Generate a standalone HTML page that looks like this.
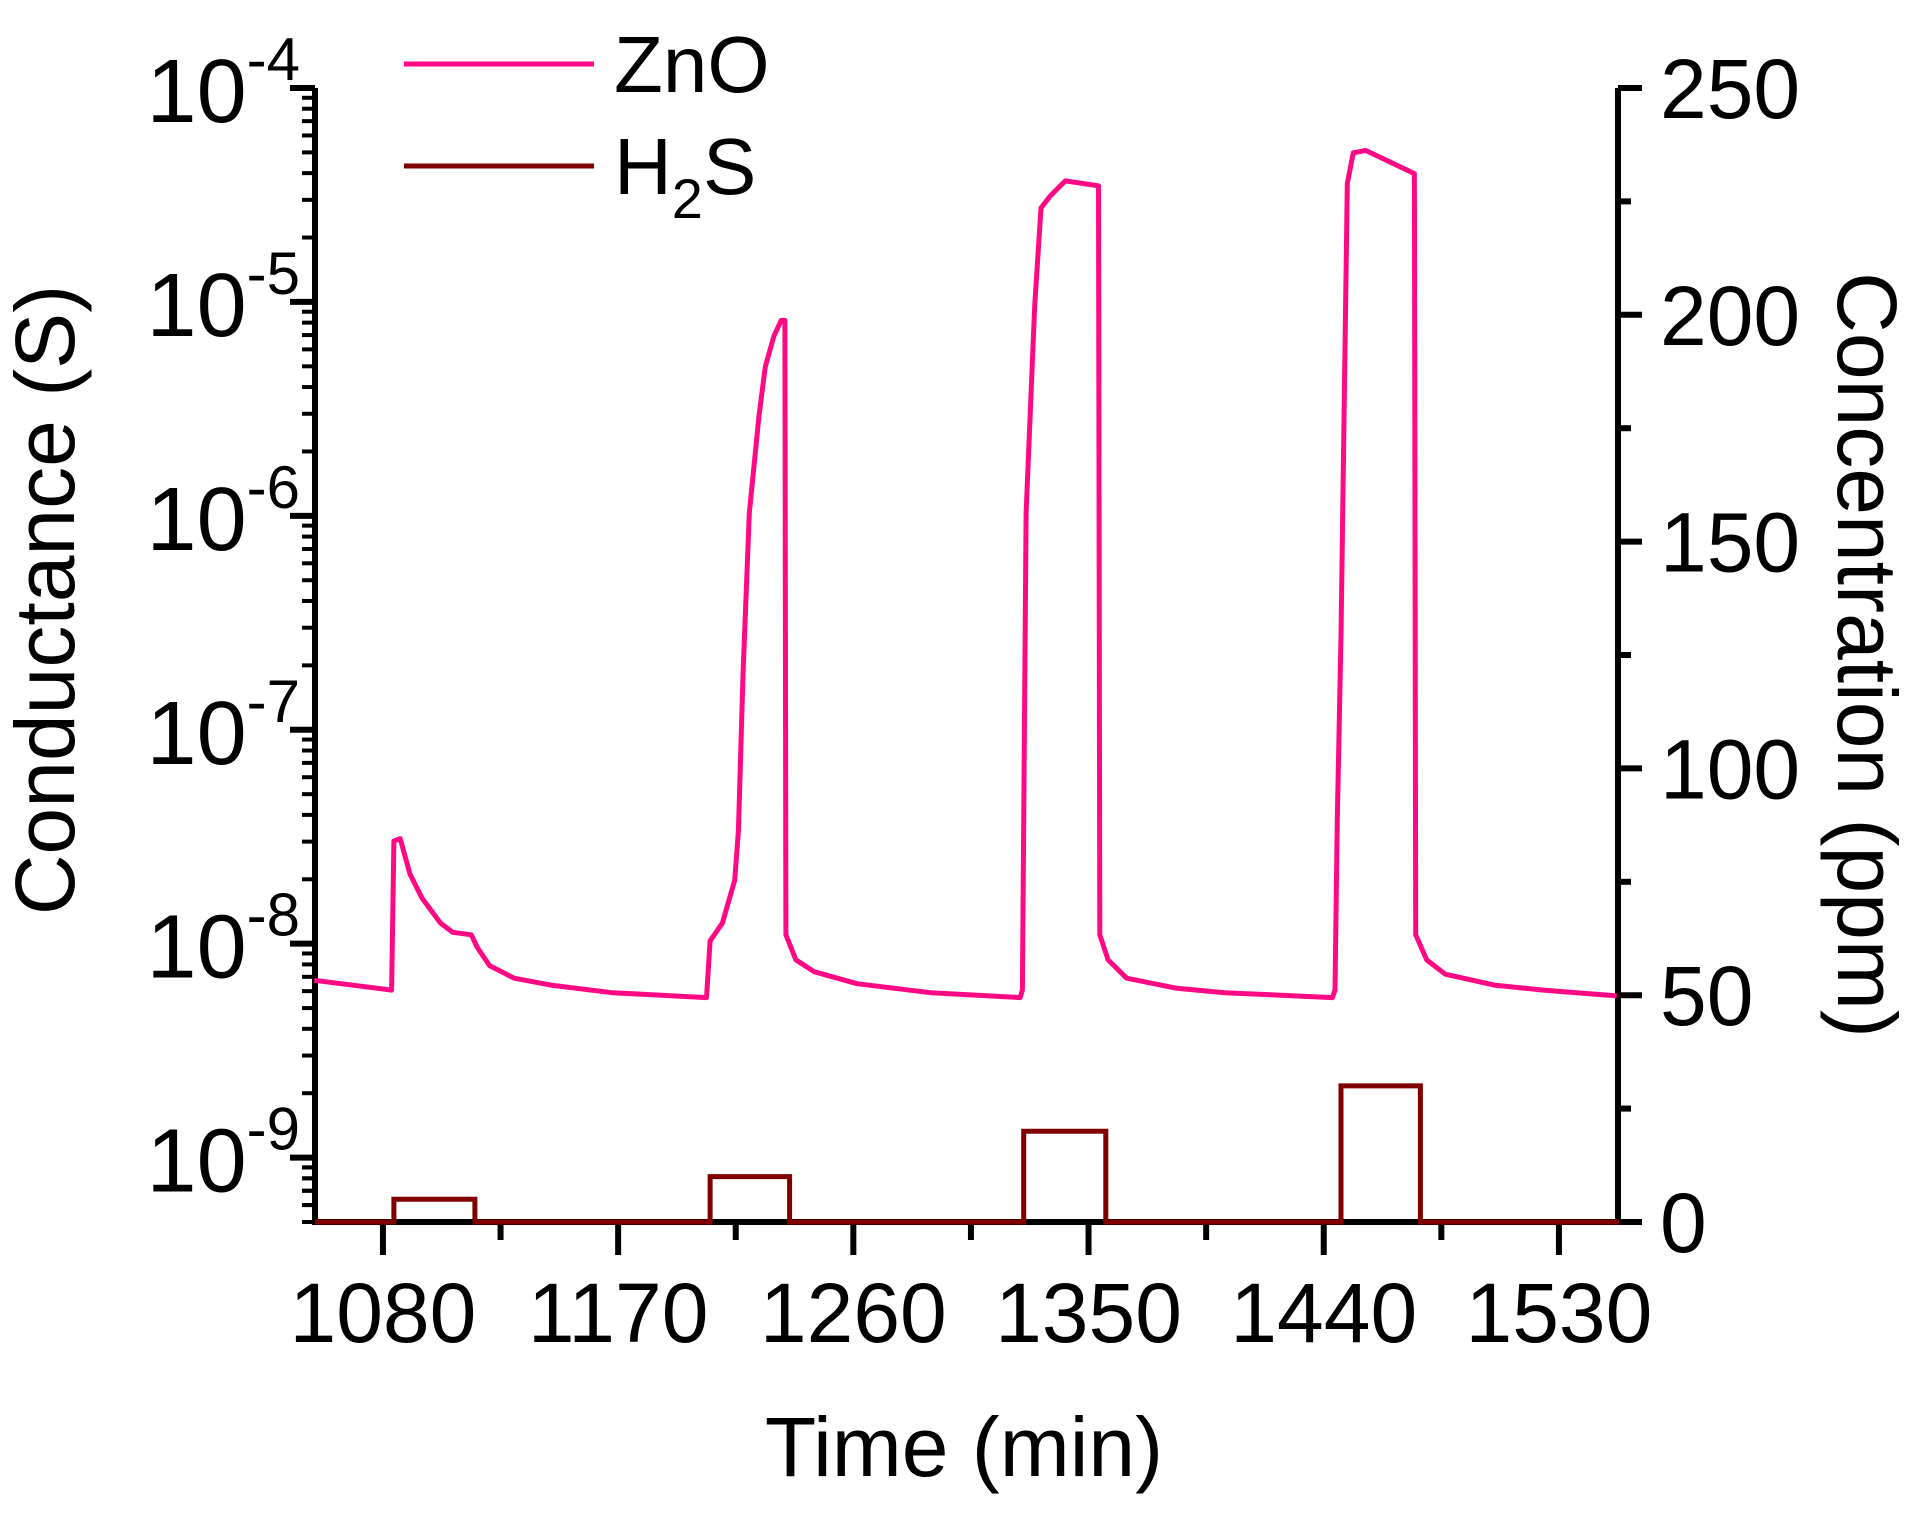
<!DOCTYPE html>
<html><head><meta charset="utf-8">
<style>
html,body{margin:0;padding:0;background:#fff;}
svg{display:block;font-family:"Liberation Sans",Arial,sans-serif;}
</style></head>
<body>
<svg id="chart" width="1920" height="1513" viewBox="0 0 1920 1513">
<g id="axes"></g>
<g id="marks"></g>
<g id="legend">
  <line x1="404" y1="64" x2="594" y2="64" stroke="#ff0a84" stroke-width="5"/>
  <text x="614" y="92" font-size="80">ZnO</text>
  <line x1="404" y1="166" x2="594" y2="166" stroke="#800000" stroke-width="5"/>
  <text x="614" y="194" font-size="80">H<tspan font-size="56" dy="24">2</tspan><tspan dy="-24">S</tspan></text>
</g>
<text x="964" y="1476" font-size="84" text-anchor="middle">Time (min)</text>
<text transform="translate(74,600) rotate(-90)" font-size="84" text-anchor="middle">Conductance (S)</text>
<text transform="translate(1838,655) rotate(90)" font-size="84" text-anchor="middle">Concentration (ppm)</text>
</svg>
<script>
const xTicks = [1080, 1170, 1260, 1350, 1440, 1530];
const yLogTicks = [-4, -5, -6, -7, -8, -9];
const yRightTicks = [0, 50, 100, 150, 200, 250];

const znoTime = [1053.7,1083.3,1084.2,1086.6,1090.3,1095,1102,1106.7,1113.8,1116.1,1120.8,1130.2,1144.2,1167.7,1203.8,
 1205.2,1209.9,1214.6,1216,1217.8,1220.2,1223.9,1226.3,1229.6,1232.4,1233.8,1234.2,1238,1245,1261.4,1289.6,1323.8,
 1324.7,1326.1,1329.4,1331.8,1335.5,1341.1,1353.8,1354.3,1357.5,1364.6,1383.3,1402.1,1443.3,
 1444.3,1445.2,1446.6,1449,1451.3,1456,1474.7,1475.2,1479.4,1486.5,1505.2,1524,1552.1];
const znoCond = [6.74e-9,6.07e-9,3.02e-8,3.10e-8,2.12e-8,1.63e-8,1.25e-8,1.13e-8,1.10e-8,9.6e-9,7.9e-9,6.9e-9,6.4e-9,5.9e-9,5.6e-9,
 1.03e-8,1.25e-8,1.98e-8,3.36e-8,1.86e-7,1.03e-6,2.94e-6,4.98e-6,6.92e-6,8.2e-6,8.2e-6,1.10e-8,8.4e-9,7.4e-9,6.5e-9,5.9e-9,5.6e-9,
 6.07e-9,1.03e-6,9.6e-6,2.75e-5,3.14e-5,3.68e-5,3.49e-5,1.10e-8,8.4e-9,6.9e-9,6.2e-9,5.9e-9,5.6e-9,
 6.07e-9,3.83e-8,2.75e-7,3.58e-5,4.98e-5,5.11e-5,3.98e-5,1.10e-8,8.4e-9,7.2e-9,6.4e-9,6.07e-9,5.7e-9];

const h2sTime = [1054,1084.2,1084.2,1115.2,1115.2,1205.2,1205.2,1235.6,1235.6,1325.2,1325.2,1356.6,1356.6,1446.6,1446.6,1477,1477,1553];
const h2sConc = [0,0,5,5,0,0,10,10,0,0,20,20,0,0,30,30,0,0];

const NS = "http://www.w3.org/2000/svg";
const L = 315, R = 1618, T = 88, B = 1222;
const xMin = 1054, xMax = 1552.6;
const logMin = Math.log10(5e-10), logMax = -4;
const x = t => L + (t - xMin) / (xMax - xMin) * (R - L);
const yLog = v => B - (Math.log10(v) - logMin) / (logMax - logMin) * (B - T);
const yLogE = e => B - (e - logMin) / (logMax - logMin) * (B - T);
const yR = c => B - c / 250 * (B - T);

function mk(tag, attrs, parent) {
  const el = document.createElementNS(NS, tag);
  for (const k in attrs) el.setAttribute(k, attrs[k]);
  parent.appendChild(el);
  return el;
}
const axes = document.getElementById('axes');
const marks = document.getElementById('marks');

let d = znoTime.map((t, i) => (i ? 'L' : 'M') + x(t).toFixed(1) + ' ' + yLog(znoCond[i]).toFixed(1)).join(' ');
let p = mk('path', {d: d, fill: 'none', stroke: '#ff0a84', 'stroke-width': 5, 'stroke-linejoin': 'round'}, marks);


d = h2sTime.map((t, i) => (i ? 'L' : 'M') + x(t).toFixed(1) + ' ' + yR(h2sConc[i]).toFixed(1)).join(' ');
p = mk('path', {d: d, fill: 'none', stroke: '#800000', 'stroke-width': 5}, marks);



let a = mk('path', {d: `M${L} ${T} L${L} ${B} L${R} ${B} L${R} ${T}`, fill: 'none', stroke: '#000', 'stroke-width': 6}, axes);



xTicks.forEach(v => {
  const xx = x(v);
  let tk = mk('line', {x1: xx, y1: B, x2: xx, y2: B + 33, stroke: '#000', 'stroke-width': 6}, axes);
  
  
  let tx = mk('text', {x: xx, y: B + 120, 'font-size': 84, 'text-anchor': 'middle'}, axes);
  tx.textContent = v;
  
  
});
for (let v = 1035; v < xMax; v += 90) {
  if (v < xMin) continue;
  let tk = mk('line', {x1: x(v), y1: B, x2: x(v), y2: B + 18, stroke: '#000', 'stroke-width': 6}, axes);
  
  
}

yLogTicks.forEach(e => {
  const yy = yLogE(e);
  let tk = mk('line', {x1: L - 25, y1: yy, x2: L, y2: yy, stroke: '#000', 'stroke-width': 6}, axes);
  
  
  let tx = mk('text', {x: 300, y: yy + 34, 'font-size': 90, 'text-anchor': 'end'}, axes);
  tx.innerHTML = '10<tspan font-size="60" dy="-42">' + e + '</tspan>';
  
  
  for (let m = 2; m <= 9; m++) {
    const me = e - 1 + Math.log10(m);
    if (me < logMin) continue;
    let mt = mk('line', {x1: L - 13, y1: yLogE(me), x2: L, y2: yLogE(me), stroke: '#000', 'stroke-width': 4}, axes);
    
    
  }
});
for (let m = 5; m <= 9; m++) {
  const me = -10 + Math.log10(m);
  if (me < logMin - 0.001) continue;
  let mt = mk('line', {x1: L - 13, y1: yLogE(me), x2: L, y2: yLogE(me), stroke: '#000', 'stroke-width': 4}, axes);
  
  
}

yRightTicks.forEach(c => {
  const yy = yR(c);
  let tk = mk('line', {x1: R, y1: yy, x2: R + 24, y2: yy, stroke: '#000', 'stroke-width': 6}, axes);
  
  
  let tx = mk('text', {x: 1660, y: yy + 30, 'font-size': 84}, axes);
  tx.textContent = c;
  
  
});
for (let c = 25; c < 250; c += 50) {
  let mt = mk('line', {x1: R, y1: yR(c), x2: R + 13, y2: yR(c), stroke: '#000', 'stroke-width': 6}, axes);
  
  
}
</script>
</body></html>
